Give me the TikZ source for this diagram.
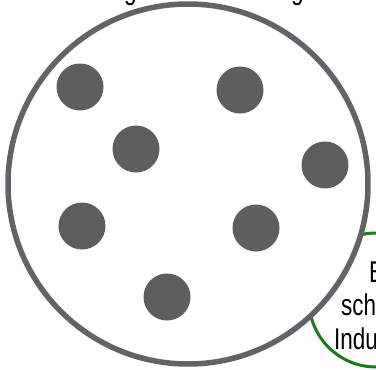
\documentclass[tikz,border=0pt]{standalone}
\usepackage{fontspec}
\setmainfont{Liberation Sans}[FakeStretch=0.75]
\definecolor{ringgray}{HTML}{646266}
\definecolor{dotgray}{HTML}{5E5E5E}
\definecolor{ringgreen}{HTML}{1A7A1A}
\begin{document}
\begin{tikzpicture}[x=1pt,y=-1pt,
  dot/.style={circle,fill=dotgray,minimum size=47pt,inner sep=0pt},
  lbl/.style={font=\fontsize{30}{34}\selectfont,inner sep=0pt,anchor=base west}]
\useasboundingbox (0,0) rectangle (376,370);
\node[circle,draw=ringgreen,line width=3pt,minimum size=134pt,inner sep=0pt] (green) at (376,300) {};
\node[circle,draw=ringgray,fill=white,line width=5.5pt,minimum size=360pt,inner sep=0pt] (ring) at (188,184) {};
\node[dot] (d1) at (80,87) {};
\node[dot] (d2) at (240,90) {};
\node[dot] (d3) at (136,149) {};
\node[dot] (d4) at (325,165) {};
\node[dot] (d5) at (82,226) {};
\node[dot] (d6) at (256,228) {};
\node[dot] (d7) at (167,297) {};
\node[lbl] (t1) at (369,282) {B};
\node[lbl] (t2) at (341,315) {sch};
\node[lbl] (t3) at (334,349) {Indu};
\node[lbl] (g1) at (124,-1) {g};
\node[lbl] (g2) at (291,-1) {g};
\end{tikzpicture}
\end{document}
